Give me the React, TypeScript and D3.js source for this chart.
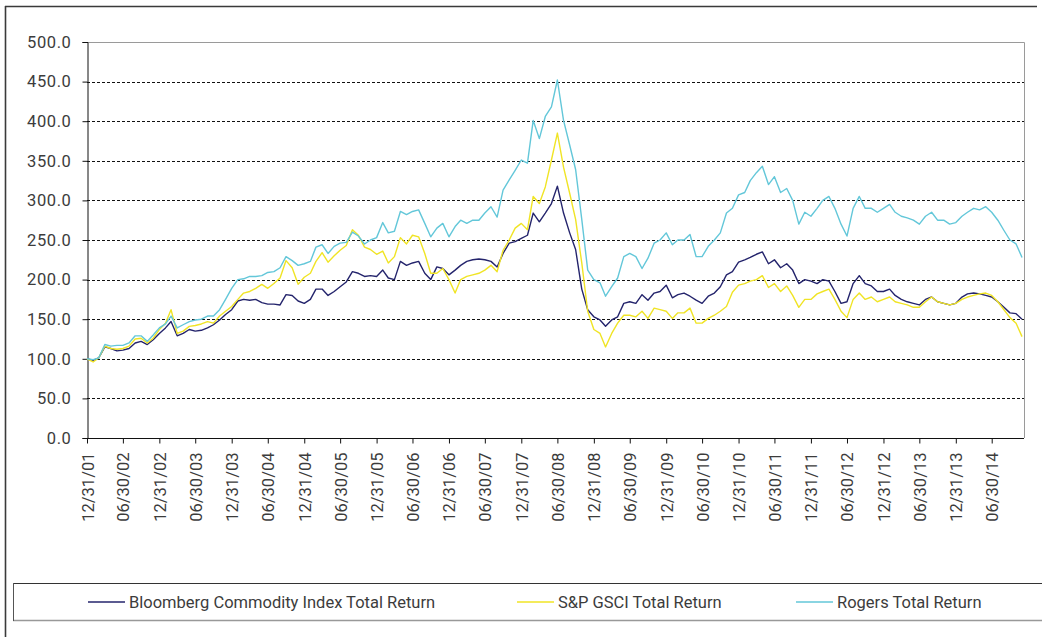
import React, { useRef, useEffect } from "react";
import * as d3 from "d3";

// month-end values, 12/31/01 .. 11/30/14 (one row = Dec..Nov)
const bloomberg = [
  100, 98, 101, 115, 113, 110, 111, 113, 120, 122, 118, 124,
  132, 139, 147, 129, 132, 137, 135, 136, 139, 143, 149, 156,
  162, 173, 175, 174, 175, 171, 169, 169, 168, 181, 180, 173,
  170, 175, 188, 188, 180, 185, 191, 197, 210, 208, 204, 205,
  204, 212, 202, 200, 223, 218, 221, 223, 208, 200, 216, 214,
  206, 212, 218, 223, 225, 226, 225, 223, 216, 233, 246, 248,
  252, 256, 284, 273, 284, 296, 318, 284, 259, 238, 188, 162,
  153, 149, 141, 149, 153, 170, 172, 170, 181, 174, 183, 185,
  193, 177, 181, 183, 179, 174, 170, 179, 183, 191, 206, 210,
  222, 225, 228, 232, 235, 220, 225, 215, 220, 212, 195, 200,
  198, 195, 200, 198, 185, 170, 172, 195, 205, 195, 192, 185,
  185, 188, 180, 175, 172, 170, 168, 175, 178, 172, 170, 168,
  170, 178, 182, 183, 182, 180, 178, 172, 165, 158, 157, 150,
];

const gsci = [
  100, 96, 101, 116, 113, 112, 113, 116, 125, 126, 120, 126,
  137, 145, 162, 132, 135, 141, 142, 144, 147, 145, 154, 160,
  166, 175, 183, 185, 189, 194, 189, 195, 202, 224, 215, 194,
  203, 208, 223, 234, 222, 230, 237, 243, 263, 256, 241, 238,
  232, 236, 221, 229, 253, 245, 256, 254, 233, 208, 208, 214,
  200, 183, 200, 204, 206, 208, 212, 218, 210, 237, 250, 265,
  271, 263, 305, 296, 317, 351, 385, 342, 309, 276, 221, 160,
  137, 132, 115, 132, 145, 155, 155, 153, 160, 151, 164, 162,
  160, 151, 158, 158, 164, 145, 145, 151, 155, 160, 166, 184,
  193, 195, 198, 200, 205, 190, 195, 185, 192, 180, 165, 175,
  175, 182, 185, 188, 175, 160, 152, 175, 183, 175, 178, 172,
  175, 178, 172, 170, 168, 165, 165, 172, 178, 172, 170, 168,
  170, 175, 178, 180, 182, 183, 180, 172, 162, 152, 145, 128,
];

const rogers = [
  100, 99, 101, 118, 116, 117, 117, 120, 129, 129, 122, 130,
  139, 144, 154, 139, 143, 147, 149, 150, 154, 154, 162, 175,
  189, 200, 201, 204, 204, 205, 209, 210, 215, 229, 224, 218,
  220, 223, 241, 244, 233, 242, 246, 247, 260, 255, 245, 250,
  253, 272, 259, 261, 286, 282, 286, 288, 271, 254, 265, 271,
  254, 267, 275, 271, 275, 275, 284, 292, 279, 313, 326, 338,
  351, 347, 401, 378, 406, 418, 452, 401, 370, 339, 276, 212,
  200, 196, 179, 191, 202, 229, 233, 229, 214, 227, 246, 250,
  259, 244, 250, 250, 257, 229, 229, 242, 250, 259, 284, 290,
  307, 310, 325, 335, 343, 320, 330, 310, 315, 300, 270, 285,
  280, 290, 300, 305, 290, 270, 255, 290, 305, 290, 290, 285,
  290, 295, 285, 280, 278, 275, 270, 280, 285, 275, 275, 270,
  272, 280, 285, 290, 288, 292, 285, 275, 262, 250, 245, 228,
];

const seriesNames = [
  "Bloomberg Commodity Index Total Return",
  "S&P GSCI Total Return",
  "Rogers Total Return",
];
const seriesColors = ["#24246c", "#f0e425", "#63c7d9"];

const yTicks = [0, 50, 100, 150, 200, 250, 300, 350, 400, 450, 500];
const xTickLabels = [
  "12/31/01", "06/30/02", "12/31/02", "06/30/03", "12/31/03", "06/30/04",
  "12/31/04", "06/30/05", "12/31/05", "06/30/06", "12/31/06", "06/30/07",
  "12/31/07", "06/30/08", "12/31/08", "06/30/09", "12/31/09", "06/30/10",
  "12/31/10", "06/30/11", "12/31/11", "06/30/12", "12/31/12", "06/30/13",
  "12/31/13", "06/30/14",
];

export default function App() {
  const ref = useRef<SVGSVGElement>(null);

  useEffect(() => {
    const svg = d3.select(ref.current);
    svg.selectAll("*").remove();

    const W = 1047, H = 637;
    const plot = { left: 87, right: 1024, top: 42, bottom: 438 };
    const font = "Roboto, sans-serif";
    const textColor = "#3c3c3c";

    const parse = d3.timeParse("%m/%d/%y");
    // month-end dates: 12/31/01 .. 11/30/14
    const dates = d3
      .timeMonth.range(new Date(2002, 0, 1), new Date(2014, 11, 2))
      .map((d) => d3.timeDay.offset(d, -1));

    const x = d3
      .scaleTime()
      .domain([new Date(2001, 11, 31), new Date(2014, 11, 10)])
      .range([plot.left, plot.right]);
    const y = d3.scaleLinear().domain([0, 500]).range([plot.bottom, plot.top]);

    svg.attr("width", W).attr("height", H);

    // outer frame (top + left edges)
    svg.append("line").attr("x1", 5).attr("x2", 1037).attr("y1", 6.5).attr("y2", 6.5)
      .attr("stroke", "#3a3a3a").attr("stroke-width", 1.6);
    svg.append("line").attr("x1", 5.5).attr("x2", 5.5).attr("y1", 6).attr("y2", H)
      .attr("stroke", "#3a3a3a").attr("stroke-width", 1.6);

    // plot border (top/right gray)
    svg.append("path")
      .attr("d", `M${plot.left},${plot.top + 0.5}H${plot.right + 0.5}V${plot.bottom}`)
      .attr("fill", "none").attr("stroke", "#9a9a9a").attr("stroke-width", 1);

    // gridlines
    svg.append("g").selectAll("line")
      .data(yTicks.filter((v) => v > 0 && v < 500))
      .enter().append("line")
      .attr("x1", plot.left).attr("x2", plot.right)
      .attr("y1", (d) => Math.round(y(d)) + 0.5).attr("y2", (d) => Math.round(y(d)) + 0.5)
      .attr("stroke", "#111").attr("stroke-width", 1).attr("stroke-dasharray", "3 2");

    // y axis
    const yAxis = svg.append("g").attr("transform", `translate(${plot.left + 0.5},0)`)
      .call(d3.axisLeft(y).tickValues(yTicks).tickSize(5).tickPadding(11)
        .tickFormat((d) => d3.format(".1f")(d as number)));
    yAxis.select(".domain").attr("stroke", "#111");
    yAxis.selectAll(".tick line").attr("stroke", "#111");
    yAxis.selectAll("text").attr("font-family", font).attr("font-size", "16.5px")
      .attr("letter-spacing", "0.6px").attr("fill", textColor);

    // x axis
    const xTicks = xTickLabels.map((s) => parse(s) as Date);
    const xAxis = svg.append("g").attr("transform", `translate(0,${plot.bottom + 0.5})`)
      .call(d3.axisBottom(x).tickValues(xTicks).tickSize(5).tickFormat(d3.timeFormat("%m/%d/%y") as any));
    xAxis.select(".domain").attr("d", `M${plot.left},0H${plot.right}`).attr("stroke", "#111");
    xAxis.selectAll(".tick line").attr("stroke", "#111");
    xAxis.selectAll("text")
      .attr("font-family", font).attr("font-size", "16.5px").attr("fill", textColor)
      .attr("text-anchor", "end").attr("dy", null)
      .attr("transform", "translate(6,14) rotate(-90)")
      .attr("x", 0).attr("y", 0);

    // series
    const allSeries = [bloomberg, gsci, rogers];
    const line = d3.line<number>()
      .x((_d, i) => x(dates[i]))
      .y((d) => y(d));
    allSeries.forEach((vals, i) => {
      svg.append("path").datum(vals)
        .attr("d", line)
        .attr("fill", "none")
        .attr("stroke", seriesColors[i])
        .attr("stroke-width", 1.4)
        .attr("stroke-linejoin", "round");
    });

    // legend box
    const lg = svg.append("g");
    lg.append("line").attr("x1", 13).attr("x2", 1042).attr("y1", 583.5).attr("y2", 583.5)
      .attr("stroke", "#333").attr("stroke-width", 1);
    lg.append("line").attr("x1", 13).attr("x2", 1042).attr("y1", 620.5).attr("y2", 620.5)
      .attr("stroke", "#999").attr("stroke-width", 1.5);
    lg.append("line").attr("x1", 13.5).attr("x2", 13.5).attr("y1", 583).attr("y2", 621)
      .attr("stroke", "#555").attr("stroke-width", 1);

    const legendX = [88, 517, 796];
    seriesNames.forEach((name, i) => {
      lg.append("line")
        .attr("x1", legendX[i]).attr("x2", legendX[i] + 37)
        .attr("y1", 602).attr("y2", 602)
        .attr("stroke", seriesColors[i]).attr("stroke-width", 1.6);
      lg.append("text")
        .attr("x", legendX[i] + 41).attr("y", 608)
        .attr("font-family", font).attr("font-size", "16.5px").attr("fill", textColor)
        .text(name);
    });
  }, []);

  return (
    <div style={{ position: "absolute", left: 0, top: 0, background: "#fff" }}>
      <svg ref={ref} style={{ display: "block" }} />
    </div>
  );
}
